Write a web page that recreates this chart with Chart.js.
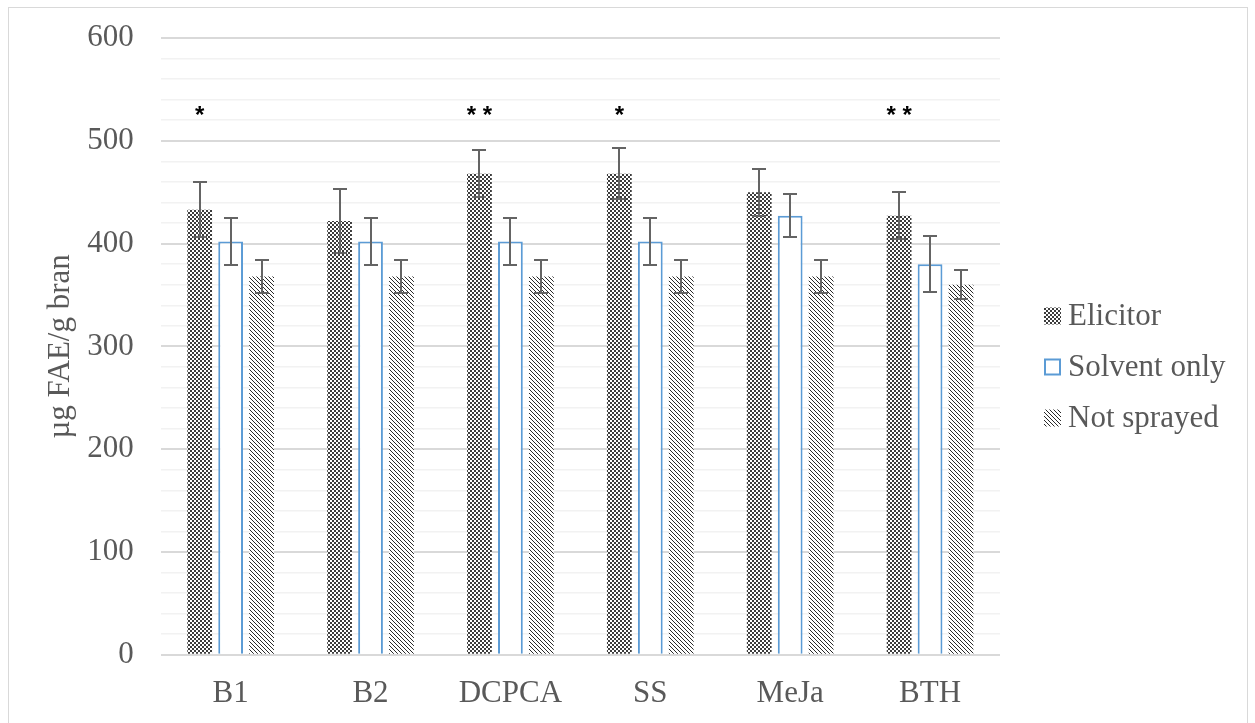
<!DOCTYPE html>
<html>
<head>
<meta charset="utf-8">
<script src="https://cdn.jsdelivr.net/npm/chart.js@4"></script>
<style>
  html, body { margin: 0; padding: 0; background: #fff; }
  #wrap { position: relative; width: 1255px; height: 723px; overflow: hidden; }
  #frame { position: absolute; left: 8px; top: 7px; width: 1240px; height: 760px; border: 1px solid #d9d9d9; box-sizing: border-box; pointer-events: none; }
  canvas { position: absolute; left: 0; top: 0; }
</style>
</head>
<body>
<div id="wrap">
  <canvas id="chart" width="1255" height="723"></canvas>
  <div id="frame"></div>
</div>
<script>
// values
const categories = ['B1', 'B2', 'DCPCA', 'SS', 'MeJa', 'BTH'];
const elicitor = [433, 422, 468, 468, 450, 427];
const elicitorErr = [27, 31, 23, 25, 23, 23];
const solventOnly = [402, 402, 402, 402, 427, 380];
const solventOnlyErr = [23, 23, 23, 23, 21, 27];
const notSprayed = [368, 368, 368, 368, 368, 360];
const notSprayedErr = [16, 16, 16, 16, 16, 14];
const sigMarks = ['*', '', '* *', '*', '', '* *'];
const sigLevel = 517;

const serif = 'Liberation Serif';
const textGrey = '#595959';

// fill patterns like the Excel ones
function checkerPattern() {
  const c = document.createElement('canvas');
  c.width = 4; c.height = 4;
  const g = c.getContext('2d');
  g.fillStyle = '#fff';
  g.fillRect(0, 0, 4, 4);
  g.fillStyle = '#3c3c3c';
  g.fillRect(0, 0, 2, 2);
  g.fillRect(2, 2, 2, 2);
  return g.createPattern(c, 'repeat');
}

function diagonalPattern() {
  const c = document.createElement('canvas');
  c.width = 4; c.height = 4;
  const g = c.getContext('2d');
  g.fillStyle = '#fff';
  g.fillRect(0, 0, 4, 4);
  g.fillStyle = '#2a2a2a';
  for (let i = 0; i < 4; i++) g.fillRect(i, i, 1, 1);
  return g.createPattern(c, 'repeat');
}

const errorBars = {
  id: 'errorBars',
  afterDatasetsDraw(chart) {
    const { ctx, scales: { y } } = chart;
    ctx.save();
    ctx.strokeStyle = '#646464';
    ctx.lineWidth = 2;
    chart.data.datasets.forEach((ds, di) => {
      const meta = chart.getDatasetMeta(di);
      meta.data.forEach((bar, i) => {
        const top = Math.round(y.getPixelForValue(ds.data[i] + ds.errors[i]));
        const bot = Math.round(y.getPixelForValue(ds.data[i] - ds.errors[i]));
        const x = Math.round(bar.x);
        ctx.beginPath();
        ctx.moveTo(x, top); ctx.lineTo(x, bot);
        ctx.moveTo(x - 7, top); ctx.lineTo(x + 7, top);
        ctx.moveTo(x - 7, bot); ctx.lineTo(x + 7, bot);
        ctx.stroke();
      });
    });
    ctx.restore();
  }
};

const sigLabels = {
  id: 'sigLabels',
  afterDatasetsDraw(chart) {
    const { ctx, scales: { y } } = chart;
    const meta = chart.getDatasetMeta(0);
    ctx.save();
    ctx.fillStyle = '#000';
    ctx.font = 'bold 24px "Liberation Sans"';
    ctx.textAlign = 'center';
    ctx.textBaseline = 'alphabetic';
    sigMarks.forEach((m, i) => {
      if (m) ctx.fillText(m, meta.data[i].x, y.getPixelForValue(sigLevel));
    });
    ctx.restore();
  }
};

const sideLegend = {
  id: 'sideLegend',
  afterDraw(chart) {
    const ctx = chart.ctx;
    ctx.save();
    ctx.font = '31px "' + serif + '"';
    ctx.textBaseline = 'middle';
    chart.data.datasets.forEach((ds, i) => {
      const cy = 316 + i * 51;
      const bx = 1044, size = 17;
      ctx.fillStyle = ds.backgroundColor;
      ctx.fillRect(bx, cy - size / 2, size, size);
      if (ds.borderWidth) {
        ctx.strokeStyle = ds.borderColor;
        ctx.lineWidth = 2;
        ctx.strokeRect(bx + 1, cy - size / 2 + 1, size - 2, size - 2);
      }
      ctx.fillStyle = textGrey;
      ctx.fillText(ds.label, 1068, cy + 1);
    });
    ctx.restore();
  }
};

new Chart(document.getElementById('chart'), {
  type: 'bar',
  data: {
    labels: categories,
    datasets: [
      { label: 'Elicitor', data: elicitor, errors: elicitorErr, backgroundColor: checkerPattern(), borderWidth: 0 },
      { label: 'Solvent only', data: solventOnly, errors: solventOnlyErr, backgroundColor: '#ffffff', borderColor: '#5b9bd5', borderWidth: 2 },
      { label: 'Not sprayed', data: notSprayed, errors: notSprayedErr, backgroundColor: diagonalPattern(), borderWidth: 0 }
    ]
  },
  options: {
    responsive: false,
    animation: false,
    events: [],
    categoryPercentage: 0.664,
    barPercentage: 0.8,
    layout: { padding: { left: 42, right: 255, top: 38, bottom: -1 } },
    plugins: {
      legend: { display: false },
      tooltip: { enabled: false }
    },
    scales: {
      x: {
        grid: { display: false },
        border: { display: false },
        ticks: { color: textGrey, font: { family: serif, size: 31 }, padding: 12 }
      },
      y: {
        min: 0,
        max: 600,
        border: { display: false },
        afterFit: (s) => { s.paddingTop = 0; },
        grid: {
          drawTicks: false,
          color: (c) => c.tick.value % 100 === 0 ? '#d9d9d9' : '#f2f2f2',
          lineWidth: (c) => c.tick.value % 100 === 0 ? 2 : 1.5
        },
        ticks: {
          stepSize: 20,
          autoSkip: false,
          color: textGrey,
          font: { family: serif, size: 31 },
          padding: 27,
          callback: (v) => v % 100 === 0 ? v : ''
        },
        title: {
          display: true,
          text: 'µg FAE/g bran',
          color: textGrey,
          font: { family: serif, size: 31 },
          padding: { top: 0, bottom: -19 }
        }
      }
    }
  },
  plugins: [errorBars, sigLabels, sideLegend]
});
</script>
</body>
</html>
